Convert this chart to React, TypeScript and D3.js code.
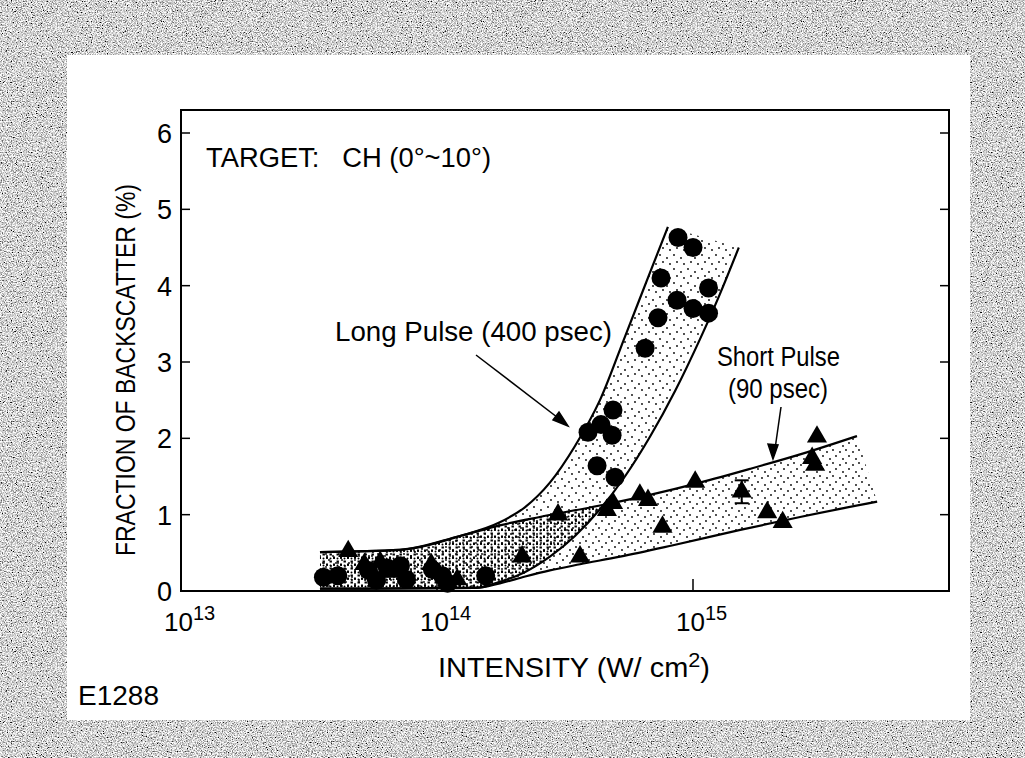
import React from "react";
import * as d3 from "d3";

// ---------- data ----------
const xTicks = [1e13, 1e14, 1e15];
const xTickExp = ["13", "14", "15"];
const yTicks = [0, 1, 2, 3, 4, 5, 6];

// Long pulse (400 psec) measurements: [intensity W/cm2, backscatter %]
const longPulse: [number, number][] = [
  [3.6e13, 0.18], [4.1e13, 0.2], [5.4e13, 0.27], [5.8e13, 0.14], [6.4e13, 0.3],
  [7.2e13, 0.33], [7.6e13, 0.15], [9.6e13, 0.28], [1.05e14, 0.2], [1.1e14, 0.1],
  [1.55e14, 0.2],
  [3.89e14, 2.08], [4.37e14, 2.18], [4.87e14, 2.37], [4.83e14, 2.04],
  [4.22e14, 1.64], [4.96e14, 1.49], [6.5e14, 3.18], [7.3e14, 3.58],
  [7.5e14, 4.1], [8.66e14, 3.81], [8.74e14, 4.63], [1.0e15, 4.5],
  [1.0e15, 3.7], [1.15e15, 3.64], [1.15e15, 3.97],
];

// Short pulse (90 psec) measurements
const shortPulse: [number, number][] = [
  [4.5e13, 0.52], [5.2e13, 0.35], [6.0e13, 0.38], [6.6e13, 0.25], [9.5e13, 0.35],
  [1.2e14, 0.15], [2.15e14, 0.45], [2.97e14, 1.0], [3.62e14, 0.45],
  [4.61e14, 1.06], [4.87e14, 1.15], [6.2e14, 1.26], [6.67e14, 1.19],
  [7.6e14, 0.84], [1.02e15, 1.43], [1.55e15, 1.3], [1.95e15, 1.03],
  [2.24e15, 0.9], [2.92e15, 1.74], [3.0e15, 1.65], [3.05e15, 2.02],
];
// error bar on one short-pulse point: [intensity, low, high]
const shortErr: [number, number, number][] = [[1.55e15, 1.15, 1.45]];

// band boundaries
const longUpper: [number, number][] = [
  [3.49e13, 0.51], [7.16e13, 0.54], [1.23e14, 0.72], [1.76e14, 0.9], [2.21e14, 1.1],
  [2.76e14, 1.42], [3.46e14, 1.9], [4.33e14, 2.5], [5.42e14, 3.33], [6.79e14, 4.17],
  [7.98e14, 4.77],
];
const longLower: [number, number][] = [
  [3.49e13, 0.03], [1.41e14, 0.04], [1.76e14, 0.12], [2.21e14, 0.25], [2.76e14, 0.45],
  [3.46e14, 0.72], [4.33e14, 1.07], [5.42e14, 1.5], [6.79e14, 2.02], [8.51e14, 2.62],
  [1.065e15, 3.3], [1.27e15, 3.88], [1.51e15, 4.5],
];
const shortUpper: [number, number][] = [
  [3.49e13, 0.51], [7.16e13, 0.54], [1.23e14, 0.72], [1.76e14, 0.86], [2.52e14, 0.97],
  [4.33e14, 1.12], [6.79e14, 1.26], [1.065e15, 1.42], [1.67e15, 1.6], [2.62e15, 1.79],
  [4.37e15, 2.03],
];
const shortLower: [number, number][] = [
  [3.49e13, 0.03], [1.41e14, 0.04], [1.76e14, 0.1], [2.21e14, 0.19], [2.76e14, 0.27],
  [3.62e14, 0.35], [5.19e14, 0.45], [8.36e14, 0.6], [1.53e15, 0.8], [2.62e15, 0.97],
  [5.24e15, 1.17],
];

const W = 1025, H = 758;

export default function App() {
  const x = d3.scaleLog().domain([1e13, 1e16]).range([181, 949]);
  const y = d3.scaleLinear().domain([0, 6]).range([591, 133]);
  const top = 110, bottom = 591, left = 181, right = 949;

  const line = d3.line<[number, number]>()
    .x(d => x(d[0])).y(d => y(d[1]))
    .curve(d3.curveMonotoneX);

  const band = (up: [number, number][], lo: [number, number][]) => {
    const a = line(up) as string;
    const b = line([...lo].reverse()) as string;
    return a + "L" + b.slice(1) + "Z";
  };

  const longBand = band(longUpper, longLower);
  const shortBand = band(shortUpper, shortLower);

  const tri = d3.symbol().type(d3.symbolTriangle).size(175)() as string;
  const font = "'Liberation Sans', Arial, sans-serif";
  const fit = "spacingAndGlyphs";

  return (
    <svg width={W} height={H} style={{ position: "absolute", left: 0, top: 0 }}>
      <defs>
        <filter id="grain" x="0" y="0" width="100%" height="100%">
          <feTurbulence type="fractalNoise" baseFrequency="0.8" numOctaves="4" seed="7" />
          <feColorMatrix type="matrix"
            values="2.2 0 0 0 -0.45  2.2 0 0 0 -0.45  2.2 0 0 0 -0.45  0 0 0 0 1" />
        </filter>
        <pattern id="dotsA" width="14" height="14" patternUnits="userSpaceOnUse">
          <circle cx="2" cy="3" r="0.9" fill="#000" />
          <circle cx="9" cy="6" r="0.9" fill="#000" />
          <circle cx="5" cy="10" r="0.9" fill="#000" />
          <circle cx="12" cy="12" r="0.9" fill="#000" />
        </pattern>
        <pattern id="dotsB" width="13" height="13" patternUnits="userSpaceOnUse">
          <circle cx="4" cy="1" r="0.9" fill="#000" />
          <circle cx="11" cy="4" r="0.9" fill="#000" />
          <circle cx="1" cy="8" r="0.9" fill="#000" />
          <circle cx="8" cy="10" r="0.9" fill="#000" />
        </pattern>
        <pattern id="dotsDense" width="7" height="7" patternUnits="userSpaceOnUse">
          <rect x="0.5" y="0.5" width="2.4" height="2" fill="#000" />
          <rect x="4" y="3.5" width="2" height="2.4" fill="#000" />
          <circle cx="1.5" cy="5.5" r="1" fill="#000" />
        </pattern>
        <clipPath id="longClip"><path d={longBand} /></clipPath>
      </defs>

      {/* grey mottled border */}
      <rect x={0} y={0} width={W} height={H} fill="#999" filter="url(#grain)" />
      <rect x={67} y={55} width={903} height={665} fill="#fff" />

      {/* bands */}
      <path d={longBand} fill="url(#dotsA)" />
      <path d={shortBand} fill="url(#dotsB)" />
      <path d={shortBand} fill="url(#dotsDense)" clipPath="url(#longClip)" />

      {/* band edges */}
      {[longUpper, longLower, shortUpper, shortLower].map((d, i) => (
        <path key={i} d={line(d) as string} fill="none" stroke="#000" strokeWidth={2.2} />
      ))}

      {/* markers */}
      {longPulse.map((d, i) => (
        <circle key={"l" + i} cx={x(d[0])} cy={y(d[1])} r={9.5} fill="#000" />
      ))}
      {shortErr.map((d, i) => (
        <g key={"e" + i} stroke="#000" strokeWidth={2}>
          <line x1={x(d[0])} x2={x(d[0])} y1={y(d[1])} y2={y(d[2])} />
          <line x1={x(d[0]) - 7} x2={x(d[0]) + 7} y1={y(d[1])} y2={y(d[1])} />
          <line x1={x(d[0]) - 7} x2={x(d[0]) + 7} y1={y(d[2])} y2={y(d[2])} />
        </g>
      ))}
      {shortPulse.map((d, i) => (
        <path key={"s" + i} d={tri} transform={`translate(${x(d[0])},${y(d[1])})`} fill="#000" />
      ))}

      {/* frame */}
      <rect x={left} y={top} width={right - left} height={bottom - top} fill="none" stroke="#000" strokeWidth={2} />
      {yTicks.filter(t => t > 0).map(t => (
        <g key={t} stroke="#000" strokeWidth={1.5}>
          <line x1={left} x2={left + 9} y1={y(t)} y2={y(t)} />
          <line x1={right - 9} x2={right} y1={y(t)} y2={y(t)} />
        </g>
      ))}
      {xTicks.slice(1).map(t => (
        <line key={t} x1={x(t)} x2={x(t)} y1={bottom} y2={bottom - 12} stroke="#000" strokeWidth={1.5} />
      ))}

      {/* tick labels */}
      <g fontFamily={font} fill="#000">
        {yTicks.map(t => (
          <text key={t} x={left - 9} y={y(t) + 10} textAnchor="end" fontSize={27}>{t}</text>
        ))}
        {xTicks.map((t, i) => (
          <text key={t} x={x(t) - 17} y={631} fontSize={26}>
            10<tspan dy={-11} fontSize={20}>{xTickExp[i]}</tspan>
          </text>
        ))}
      </g>

      {/* titles & annotations */}
      <g fontFamily={font} fill="#000">
        <text x={125} y={370} fontSize={28} textAnchor="middle" transform="rotate(-90,125,370)" dy={10}
          textLength={372} lengthAdjust={fit}>
          FRACTION OF BACKSCATTER (%)
        </text>
        <text x={438} y={677} fontSize={28} textLength={272} lengthAdjust={fit}>
          INTENSITY (W/ cm<tspan dy={-10} fontSize={21}>2</tspan><tspan dy={10}>)</tspan>
        </text>
        <text x={78} y={705} fontSize={27} textLength={81} lengthAdjust={fit}>E1288</text>
        <text x={206} y={167} fontSize={27} textLength={285} lengthAdjust={fit} xmlSpace="preserve">
          {"TARGET:\u00A0\u00A0 CH (0°~10°)"}
        </text>
        <text x={335} y={341} fontSize={27} textLength={277} lengthAdjust={fit}>Long Pulse (400 psec)</text>
        <text x={717} y={366} fontSize={27} textLength={123} lengthAdjust={fit}>Short Pulse</text>
        <text x={728} y={398} fontSize={27} textLength={100} lengthAdjust={fit}>(90 psec)</text>
      </g>

      {/* arrows */}
      <g stroke="#000" strokeWidth={1.5} fill="#000">
        <line x1={476} y1={355} x2={566} y2={424} />
        <path d="M568,426 L553,420 L559,412 Z" />
        <line x1={781} y1={407} x2={774} y2={456} />
        <path d="M773,459 L768,444 L778,445 Z" />
      </g>
    </svg>
  );
}
